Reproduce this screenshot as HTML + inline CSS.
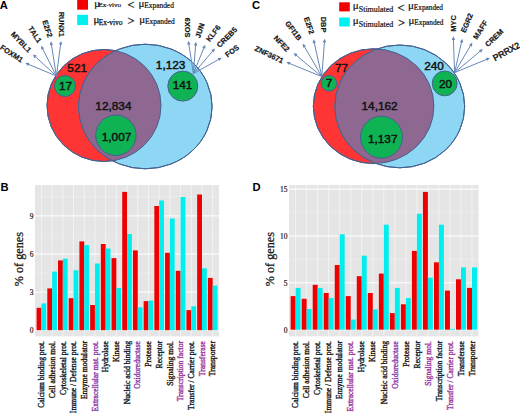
<!DOCTYPE html>
<html><head><meta charset="utf-8"><style>
html,body{margin:0;padding:0;background:#fff;}
body{width:520px;height:415px;overflow:hidden;}
svg{display:block;}
</style></head><body>
<svg width="520" height="415" viewBox="0 0 520 415">
<rect width="520" height="415" fill="#fff"/>
<defs><clipPath id="clip104"><ellipse cx="104" cy="105.5" rx="57" ry="56"/></clipPath></defs>
<ellipse cx="104" cy="105.5" rx="57" ry="56" fill="#ff3434" stroke="#44618f" stroke-width="1"/>
<ellipse cx="145.3" cy="106.5" rx="66.8" ry="62.3" fill="#8dd6f4" stroke="#44618f" stroke-width="1"/>
<ellipse cx="145.3" cy="106.5" rx="66.8" ry="62.3" fill="#8e6890" clip-path="url(#clip104)"/>
<ellipse cx="104" cy="105.5" rx="57" ry="56" fill="none" stroke="#44618f" stroke-width="1"/>
<ellipse cx="145.3" cy="106.5" rx="66.8" ry="62.3" fill="none" stroke="#44618f" stroke-width="1"/>
<circle cx="65" cy="86" r="10.5" fill="#10b354" stroke="#44618f" stroke-width="1"/>
<circle cx="182.8" cy="86.1" r="15" fill="#10b354" stroke="#44618f" stroke-width="1"/>
<circle cx="115.9" cy="135.3" r="20.2" fill="#10b354" stroke="#44618f" stroke-width="1"/>
<text x="77.20" y="71.50" font-size="11.82" font-family='"Liberation Sans", sans-serif' text-anchor="middle" font-weight="normal" fill="#111" stroke="#111" stroke-width="0.45">521</text>
<text x="65.60" y="89.60" font-size="11.82" font-family='"Liberation Sans", sans-serif' text-anchor="middle" font-weight="normal" fill="#111" stroke="#111" stroke-width="0.45">17</text>
<text x="113.40" y="109.50" font-size="11.82" font-family='"Liberation Sans", sans-serif' text-anchor="middle" font-weight="normal" fill="#111" stroke="#111" stroke-width="0.45">12,834</text>
<text x="116.50" y="140.60" font-size="11.82" font-family='"Liberation Sans", sans-serif' text-anchor="middle" font-weight="normal" fill="#111" stroke="#111" stroke-width="0.45">1,007</text>
<text x="170.60" y="69.30" font-size="11.82" font-family='"Liberation Sans", sans-serif' text-anchor="middle" font-weight="normal" fill="#111" stroke="#111" stroke-width="0.45">1,123</text>
<text x="182.50" y="89.30" font-size="11.82" font-family='"Liberation Sans", sans-serif' text-anchor="middle" font-weight="normal" fill="#111" stroke="#111" stroke-width="0.45">141</text>
<line x1="56.40" y1="76.00" x2="27.15" y2="63.77" stroke="#6787b9" stroke-width="1"/>
<polygon points="25.30,63.00 29.39,62.81 28.04,66.04" fill="#6787b9"/>
<line x1="56.40" y1="76.00" x2="34.37" y2="55.75" stroke="#6787b9" stroke-width="1"/>
<polygon points="32.90,54.40 36.81,55.62 34.44,58.19" fill="#6787b9"/>
<line x1="56.40" y1="76.00" x2="42.00" y2="47.49" stroke="#6787b9" stroke-width="1"/>
<polygon points="41.10,45.70 44.33,48.21 41.21,49.79" fill="#6787b9"/>
<line x1="56.40" y1="76.00" x2="51.21" y2="43.28" stroke="#6787b9" stroke-width="1"/>
<polygon points="50.90,41.30 53.21,44.68 49.75,45.23" fill="#6787b9"/>
<line x1="56.40" y1="76.00" x2="60.83" y2="42.88" stroke="#6787b9" stroke-width="1"/>
<polygon points="61.10,40.90 62.34,44.80 58.87,44.34" fill="#6787b9"/>
<line x1="193.40" y1="73.60" x2="188.61" y2="42.78" stroke="#6787b9" stroke-width="1"/>
<polygon points="188.30,40.80 190.60,44.19 187.14,44.72" fill="#6787b9"/>
<line x1="193.40" y1="73.60" x2="195.74" y2="43.79" stroke="#6787b9" stroke-width="1"/>
<polygon points="195.90,41.80 197.35,45.63 193.87,45.35" fill="#6787b9"/>
<line x1="193.40" y1="73.60" x2="204.44" y2="46.55" stroke="#6787b9" stroke-width="1"/>
<polygon points="205.20,44.70 205.42,48.79 202.18,47.46" fill="#6787b9"/>
<line x1="193.40" y1="73.60" x2="213.70" y2="49.92" stroke="#6787b9" stroke-width="1"/>
<polygon points="215.00,48.40 213.92,52.35 211.26,50.07" fill="#6787b9"/>
<line x1="193.40" y1="73.60" x2="220.05" y2="58.68" stroke="#6787b9" stroke-width="1"/>
<polygon points="221.80,57.70 219.43,61.03 217.72,57.98" fill="#6787b9"/>
<defs><clipPath id="clip373"><ellipse cx="373.6" cy="106.2" rx="60.3" ry="57.4"/></clipPath></defs>
<ellipse cx="373.6" cy="106.2" rx="60.3" ry="57.4" fill="#ff3434" stroke="#44618f" stroke-width="1"/>
<ellipse cx="399.8" cy="106.4" rx="64.9" ry="61.4" fill="#8dd6f4" stroke="#44618f" stroke-width="1"/>
<ellipse cx="399.8" cy="106.4" rx="64.9" ry="61.4" fill="#8e6890" clip-path="url(#clip373)"/>
<ellipse cx="373.6" cy="106.2" rx="60.3" ry="57.4" fill="none" stroke="#44618f" stroke-width="1"/>
<ellipse cx="399.8" cy="106.4" rx="64.9" ry="61.4" fill="none" stroke="#44618f" stroke-width="1"/>
<circle cx="329" cy="83.3" r="7.8" fill="#10b354" stroke="#44618f" stroke-width="1"/>
<circle cx="444.7" cy="83.4" r="12.4" fill="#10b354" stroke="#44618f" stroke-width="1"/>
<circle cx="381.5" cy="137.2" r="21" fill="#10b354" stroke="#44618f" stroke-width="1"/>
<text x="341.50" y="71.80" font-size="11.82" font-family='"Liberation Sans", sans-serif' text-anchor="middle" font-weight="normal" fill="#111" stroke="#111" stroke-width="0.45">77</text>
<text x="329.00" y="87.20" font-size="11.82" font-family='"Liberation Sans", sans-serif' text-anchor="middle" font-weight="normal" fill="#111" stroke="#111" stroke-width="0.45">7</text>
<text x="434.10" y="70.30" font-size="11.82" font-family='"Liberation Sans", sans-serif' text-anchor="middle" font-weight="normal" fill="#111" stroke="#111" stroke-width="0.45">240</text>
<text x="445.60" y="87.60" font-size="11.82" font-family='"Liberation Sans", sans-serif' text-anchor="middle" font-weight="normal" fill="#111" stroke="#111" stroke-width="0.45">20</text>
<text x="379.60" y="110.30" font-size="11.82" font-family='"Liberation Sans", sans-serif' text-anchor="middle" font-weight="normal" fill="#111" stroke="#111" stroke-width="0.45">14,162</text>
<text x="382.70" y="142.80" font-size="11.82" font-family='"Liberation Sans", sans-serif' text-anchor="middle" font-weight="normal" fill="#111" stroke="#111" stroke-width="0.45">1,137</text>
<line x1="321.80" y1="76.60" x2="288.15" y2="62.86" stroke="#6787b9" stroke-width="1"/>
<polygon points="286.30,62.10 290.39,61.88 289.06,65.12" fill="#6787b9"/>
<line x1="321.80" y1="76.60" x2="295.14" y2="54.38" stroke="#6787b9" stroke-width="1"/>
<polygon points="293.60,53.10 297.56,54.12 295.32,56.81" fill="#6787b9"/>
<line x1="321.80" y1="76.60" x2="303.70" y2="45.33" stroke="#6787b9" stroke-width="1"/>
<polygon points="302.70,43.60 306.07,45.93 303.04,47.68" fill="#6787b9"/>
<line x1="321.80" y1="76.60" x2="313.93" y2="41.25" stroke="#6787b9" stroke-width="1"/>
<polygon points="313.50,39.30 316.01,42.53 312.60,43.29" fill="#6787b9"/>
<line x1="321.80" y1="76.60" x2="324.55" y2="40.69" stroke="#6787b9" stroke-width="1"/>
<polygon points="324.70,38.70 326.16,42.52 322.67,42.26" fill="#6787b9"/>
<line x1="454.60" y1="72.60" x2="453.37" y2="38.30" stroke="#6787b9" stroke-width="1"/>
<polygon points="453.30,36.30 455.18,39.93 451.68,40.06" fill="#6787b9"/>
<line x1="454.60" y1="72.60" x2="461.86" y2="40.65" stroke="#6787b9" stroke-width="1"/>
<polygon points="462.30,38.70 463.19,42.70 459.77,41.92" fill="#6787b9"/>
<line x1="454.60" y1="72.60" x2="471.28" y2="44.32" stroke="#6787b9" stroke-width="1"/>
<polygon points="472.30,42.60 471.93,46.68 468.91,44.90" fill="#6787b9"/>
<line x1="454.60" y1="72.60" x2="481.27" y2="50.28" stroke="#6787b9" stroke-width="1"/>
<polygon points="482.80,49.00 481.09,52.72 478.84,50.03" fill="#6787b9"/>
<line x1="454.60" y1="72.60" x2="488.05" y2="58.76" stroke="#6787b9" stroke-width="1"/>
<polygon points="489.90,58.00 487.15,61.03 485.81,57.80" fill="#6787b9"/>
<rect x="35.0" y="185.0" width="184.10" height="151.39999999999998" fill="#e5e5e5"/>
<line x1="35.0" x2="219.1" y1="311.15" y2="311.15" stroke="#eeeeee" stroke-width="0.6"/>
<line x1="35.0" x2="219.1" y1="273.05" y2="273.05" stroke="#eeeeee" stroke-width="0.6"/>
<line x1="35.0" x2="219.1" y1="234.95" y2="234.95" stroke="#eeeeee" stroke-width="0.6"/>
<line x1="35.0" x2="219.1" y1="196.85" y2="196.85" stroke="#eeeeee" stroke-width="0.6"/>
<line x1="35.0" x2="219.1" y1="330.20" y2="330.20" stroke="#ffffff" stroke-width="1"/>
<line x1="35.0" x2="219.1" y1="292.10" y2="292.10" stroke="#ffffff" stroke-width="1"/>
<line x1="35.0" x2="219.1" y1="254.00" y2="254.00" stroke="#ffffff" stroke-width="1"/>
<line x1="35.0" x2="219.1" y1="215.90" y2="215.90" stroke="#ffffff" stroke-width="1"/>
<line x1="41.42" x2="41.42" y1="185.0" y2="336.4" stroke="#ffffff" stroke-width="0.7" stroke-opacity="0.75"/>
<line x1="52.13" x2="52.13" y1="185.0" y2="336.4" stroke="#ffffff" stroke-width="0.7" stroke-opacity="0.75"/>
<line x1="62.83" x2="62.83" y1="185.0" y2="336.4" stroke="#ffffff" stroke-width="0.7" stroke-opacity="0.75"/>
<line x1="73.53" x2="73.53" y1="185.0" y2="336.4" stroke="#ffffff" stroke-width="0.7" stroke-opacity="0.75"/>
<line x1="84.24" x2="84.24" y1="185.0" y2="336.4" stroke="#ffffff" stroke-width="0.7" stroke-opacity="0.75"/>
<line x1="94.94" x2="94.94" y1="185.0" y2="336.4" stroke="#ffffff" stroke-width="0.7" stroke-opacity="0.75"/>
<line x1="105.64" x2="105.64" y1="185.0" y2="336.4" stroke="#ffffff" stroke-width="0.7" stroke-opacity="0.75"/>
<line x1="116.35" x2="116.35" y1="185.0" y2="336.4" stroke="#ffffff" stroke-width="0.7" stroke-opacity="0.75"/>
<line x1="127.05" x2="127.05" y1="185.0" y2="336.4" stroke="#ffffff" stroke-width="0.7" stroke-opacity="0.75"/>
<line x1="137.75" x2="137.75" y1="185.0" y2="336.4" stroke="#ffffff" stroke-width="0.7" stroke-opacity="0.75"/>
<line x1="148.46" x2="148.46" y1="185.0" y2="336.4" stroke="#ffffff" stroke-width="0.7" stroke-opacity="0.75"/>
<line x1="159.16" x2="159.16" y1="185.0" y2="336.4" stroke="#ffffff" stroke-width="0.7" stroke-opacity="0.75"/>
<line x1="169.86" x2="169.86" y1="185.0" y2="336.4" stroke="#ffffff" stroke-width="0.7" stroke-opacity="0.75"/>
<line x1="180.57" x2="180.57" y1="185.0" y2="336.4" stroke="#ffffff" stroke-width="0.7" stroke-opacity="0.75"/>
<line x1="191.27" x2="191.27" y1="185.0" y2="336.4" stroke="#ffffff" stroke-width="0.7" stroke-opacity="0.75"/>
<line x1="201.97" x2="201.97" y1="185.0" y2="336.4" stroke="#ffffff" stroke-width="0.7" stroke-opacity="0.75"/>
<line x1="212.68" x2="212.68" y1="185.0" y2="336.4" stroke="#ffffff" stroke-width="0.7" stroke-opacity="0.75"/>
<rect x="36.61" y="307.80" width="4.82" height="22.40" fill="#ee0000"/>
<rect x="41.42" y="303.40" width="4.82" height="26.80" fill="#00eeee"/>
<rect x="47.31" y="288.40" width="4.82" height="41.80" fill="#ee0000"/>
<rect x="52.13" y="271.60" width="4.82" height="58.60" fill="#00eeee"/>
<rect x="58.01" y="260.40" width="4.82" height="69.80" fill="#ee0000"/>
<rect x="62.83" y="258.70" width="4.82" height="71.50" fill="#00eeee"/>
<rect x="68.72" y="298.20" width="4.82" height="32.00" fill="#ee0000"/>
<rect x="73.53" y="270.30" width="4.82" height="59.90" fill="#00eeee"/>
<rect x="79.42" y="241.40" width="4.82" height="88.80" fill="#ee0000"/>
<rect x="84.24" y="245.10" width="4.82" height="85.10" fill="#00eeee"/>
<rect x="90.12" y="305.00" width="4.82" height="25.20" fill="#ee0000"/>
<rect x="94.94" y="263.50" width="4.82" height="66.70" fill="#00eeee"/>
<rect x="100.83" y="244.00" width="4.82" height="86.20" fill="#ee0000"/>
<rect x="105.64" y="248.50" width="4.82" height="81.70" fill="#00eeee"/>
<rect x="111.53" y="258.10" width="4.82" height="72.10" fill="#ee0000"/>
<rect x="116.35" y="288.00" width="4.82" height="42.20" fill="#00eeee"/>
<rect x="122.23" y="191.90" width="4.82" height="138.30" fill="#ee0000"/>
<rect x="127.05" y="234.00" width="4.82" height="96.20" fill="#00eeee"/>
<rect x="132.94" y="250.40" width="4.82" height="79.80" fill="#ee0000"/>
<rect x="137.75" y="307.30" width="4.82" height="22.90" fill="#00eeee"/>
<rect x="143.64" y="301.10" width="4.82" height="29.10" fill="#ee0000"/>
<rect x="148.46" y="300.60" width="4.82" height="29.60" fill="#00eeee"/>
<rect x="154.34" y="206.00" width="4.82" height="124.20" fill="#ee0000"/>
<rect x="159.16" y="200.50" width="4.82" height="129.70" fill="#00eeee"/>
<rect x="165.05" y="252.80" width="4.82" height="77.40" fill="#ee0000"/>
<rect x="169.86" y="218.50" width="4.82" height="111.70" fill="#00eeee"/>
<rect x="175.75" y="270.80" width="4.82" height="59.40" fill="#ee0000"/>
<rect x="180.57" y="197.00" width="4.82" height="133.20" fill="#00eeee"/>
<rect x="186.45" y="310.10" width="4.82" height="20.10" fill="#ee0000"/>
<rect x="191.27" y="306.30" width="4.82" height="23.90" fill="#00eeee"/>
<rect x="197.16" y="194.50" width="4.82" height="135.70" fill="#ee0000"/>
<rect x="201.97" y="268.30" width="4.82" height="61.90" fill="#00eeee"/>
<rect x="207.86" y="277.90" width="4.82" height="52.30" fill="#ee0000"/>
<rect x="212.68" y="285.60" width="4.82" height="44.60" fill="#00eeee"/>
<text x="33.60" y="333.20" font-size="7.5" font-family='"Liberation Serif", serif' text-anchor="end" font-weight="normal" fill="#1a1a1a" stroke="#1a1a1a" stroke-width="0.2">0</text>
<text x="33.60" y="295.10" font-size="7.5" font-family='"Liberation Serif", serif' text-anchor="end" font-weight="normal" fill="#1a1a1a" stroke="#1a1a1a" stroke-width="0.2">3</text>
<text x="33.60" y="257.00" font-size="7.5" font-family='"Liberation Serif", serif' text-anchor="end" font-weight="normal" fill="#1a1a1a" stroke="#1a1a1a" stroke-width="0.2">6</text>
<text x="33.60" y="218.90" font-size="7.5" font-family='"Liberation Serif", serif' text-anchor="end" font-weight="normal" fill="#1a1a1a" stroke="#1a1a1a" stroke-width="0.2">9</text>
<text x="44.12" y="341.00" font-size="7.6" font-family='"Liberation Serif", serif' text-anchor="end" font-weight="normal" fill="#111" transform="rotate(-90.00 44.12 341.00)" stroke="#111" stroke-width="0.32">Calcium binding prot.</text>
<text x="54.83" y="341.00" font-size="7.6" font-family='"Liberation Serif", serif' text-anchor="end" font-weight="normal" fill="#111" transform="rotate(-90.00 54.83 341.00)" stroke="#111" stroke-width="0.32">Cell adhesion mol.</text>
<text x="65.53" y="341.00" font-size="7.6" font-family='"Liberation Serif", serif' text-anchor="end" font-weight="normal" fill="#111" transform="rotate(-90.00 65.53 341.00)" stroke="#111" stroke-width="0.32">Cytoskeletal prot.</text>
<text x="76.23" y="341.00" font-size="7.6" font-family='"Liberation Serif", serif' text-anchor="end" font-weight="normal" fill="#111" transform="rotate(-90.00 76.23 341.00)" stroke="#111" stroke-width="0.32">Immune / Defense prot.</text>
<text x="86.94" y="341.00" font-size="7.6" font-family='"Liberation Serif", serif' text-anchor="end" font-weight="normal" fill="#111" transform="rotate(-90.00 86.94 341.00)" stroke="#111" stroke-width="0.32">Enzyme modulator</text>
<text x="97.64" y="341.00" font-size="7.6" font-family='"Liberation Serif", serif' text-anchor="end" font-weight="normal" fill="#9232a2" transform="rotate(-90.00 97.64 341.00)" stroke="#9232a2" stroke-width="0.32">Extracellular mat. prot.</text>
<text x="108.34" y="341.00" font-size="7.6" font-family='"Liberation Serif", serif' text-anchor="end" font-weight="normal" fill="#111" transform="rotate(-90.00 108.34 341.00)" stroke="#111" stroke-width="0.32">Hydrolase</text>
<text x="119.05" y="341.00" font-size="7.6" font-family='"Liberation Serif", serif' text-anchor="end" font-weight="normal" fill="#111" transform="rotate(-90.00 119.05 341.00)" stroke="#111" stroke-width="0.32">Kinase</text>
<text x="129.75" y="341.00" font-size="7.6" font-family='"Liberation Serif", serif' text-anchor="end" font-weight="normal" fill="#111" transform="rotate(-90.00 129.75 341.00)" stroke="#111" stroke-width="0.32">Nucleic acid binding</text>
<text x="140.45" y="341.00" font-size="7.6" font-family='"Liberation Serif", serif' text-anchor="end" font-weight="normal" fill="#9232a2" transform="rotate(-90.00 140.45 341.00)" stroke="#9232a2" stroke-width="0.32">Oxidoreductase</text>
<text x="151.16" y="341.00" font-size="7.6" font-family='"Liberation Serif", serif' text-anchor="end" font-weight="normal" fill="#111" transform="rotate(-90.00 151.16 341.00)" stroke="#111" stroke-width="0.32">Protease</text>
<text x="161.86" y="341.00" font-size="7.6" font-family='"Liberation Serif", serif' text-anchor="end" font-weight="normal" fill="#111" transform="rotate(-90.00 161.86 341.00)" stroke="#111" stroke-width="0.32">Receptor</text>
<text x="172.56" y="341.00" font-size="7.6" font-family='"Liberation Serif", serif' text-anchor="end" font-weight="normal" fill="#111" transform="rotate(-90.00 172.56 341.00)" stroke="#111" stroke-width="0.32">Signaling mol.</text>
<text x="183.27" y="341.00" font-size="7.6" font-family='"Liberation Serif", serif' text-anchor="end" font-weight="normal" fill="#9232a2" transform="rotate(-90.00 183.27 341.00)" stroke="#9232a2" stroke-width="0.32">Transcription factor</text>
<text x="193.97" y="341.00" font-size="7.6" font-family='"Liberation Serif", serif' text-anchor="end" font-weight="normal" fill="#111" transform="rotate(-90.00 193.97 341.00)" stroke="#111" stroke-width="0.32">Transfer / Carrier prot.</text>
<text x="204.67" y="341.00" font-size="7.6" font-family='"Liberation Serif", serif' text-anchor="end" font-weight="normal" fill="#9232a2" transform="rotate(-90.00 204.67 341.00)" stroke="#9232a2" stroke-width="0.32">Transferase</text>
<text x="215.38" y="341.00" font-size="7.6" font-family='"Liberation Serif", serif' text-anchor="end" font-weight="normal" fill="#111" transform="rotate(-90.00 215.38 341.00)" stroke="#111" stroke-width="0.32">Transporter</text>
<rect x="289.0" y="185.0" width="189.60" height="151.39999999999998" fill="#e5e5e5"/>
<line x1="289.0" x2="478.6" y1="306.27" y2="306.27" stroke="#eeeeee" stroke-width="0.6"/>
<line x1="289.0" x2="478.6" y1="259.43" y2="259.43" stroke="#eeeeee" stroke-width="0.6"/>
<line x1="289.0" x2="478.6" y1="212.57" y2="212.57" stroke="#eeeeee" stroke-width="0.6"/>
<line x1="289.0" x2="478.6" y1="329.70" y2="329.70" stroke="#ffffff" stroke-width="1"/>
<line x1="289.0" x2="478.6" y1="282.85" y2="282.85" stroke="#ffffff" stroke-width="1"/>
<line x1="289.0" x2="478.6" y1="236.00" y2="236.00" stroke="#ffffff" stroke-width="1"/>
<line x1="289.0" x2="478.6" y1="189.15" y2="189.15" stroke="#ffffff" stroke-width="1"/>
<line x1="295.61" x2="295.61" y1="185.0" y2="336.4" stroke="#ffffff" stroke-width="0.7" stroke-opacity="0.75"/>
<line x1="306.64" x2="306.64" y1="185.0" y2="336.4" stroke="#ffffff" stroke-width="0.7" stroke-opacity="0.75"/>
<line x1="317.66" x2="317.66" y1="185.0" y2="336.4" stroke="#ffffff" stroke-width="0.7" stroke-opacity="0.75"/>
<line x1="328.68" x2="328.68" y1="185.0" y2="336.4" stroke="#ffffff" stroke-width="0.7" stroke-opacity="0.75"/>
<line x1="339.71" x2="339.71" y1="185.0" y2="336.4" stroke="#ffffff" stroke-width="0.7" stroke-opacity="0.75"/>
<line x1="350.73" x2="350.73" y1="185.0" y2="336.4" stroke="#ffffff" stroke-width="0.7" stroke-opacity="0.75"/>
<line x1="361.75" x2="361.75" y1="185.0" y2="336.4" stroke="#ffffff" stroke-width="0.7" stroke-opacity="0.75"/>
<line x1="372.78" x2="372.78" y1="185.0" y2="336.4" stroke="#ffffff" stroke-width="0.7" stroke-opacity="0.75"/>
<line x1="383.80" x2="383.80" y1="185.0" y2="336.4" stroke="#ffffff" stroke-width="0.7" stroke-opacity="0.75"/>
<line x1="394.82" x2="394.82" y1="185.0" y2="336.4" stroke="#ffffff" stroke-width="0.7" stroke-opacity="0.75"/>
<line x1="405.85" x2="405.85" y1="185.0" y2="336.4" stroke="#ffffff" stroke-width="0.7" stroke-opacity="0.75"/>
<line x1="416.87" x2="416.87" y1="185.0" y2="336.4" stroke="#ffffff" stroke-width="0.7" stroke-opacity="0.75"/>
<line x1="427.89" x2="427.89" y1="185.0" y2="336.4" stroke="#ffffff" stroke-width="0.7" stroke-opacity="0.75"/>
<line x1="438.92" x2="438.92" y1="185.0" y2="336.4" stroke="#ffffff" stroke-width="0.7" stroke-opacity="0.75"/>
<line x1="449.94" x2="449.94" y1="185.0" y2="336.4" stroke="#ffffff" stroke-width="0.7" stroke-opacity="0.75"/>
<line x1="460.96" x2="460.96" y1="185.0" y2="336.4" stroke="#ffffff" stroke-width="0.7" stroke-opacity="0.75"/>
<line x1="471.99" x2="471.99" y1="185.0" y2="336.4" stroke="#ffffff" stroke-width="0.7" stroke-opacity="0.75"/>
<rect x="290.65" y="296.10" width="4.96" height="33.60" fill="#ee0000"/>
<rect x="295.61" y="287.90" width="4.96" height="41.80" fill="#00eeee"/>
<rect x="301.68" y="298.80" width="4.96" height="30.90" fill="#ee0000"/>
<rect x="306.64" y="309.00" width="4.96" height="20.70" fill="#00eeee"/>
<rect x="312.70" y="284.80" width="4.96" height="44.90" fill="#ee0000"/>
<rect x="317.66" y="287.90" width="4.96" height="41.80" fill="#00eeee"/>
<rect x="323.72" y="293.00" width="4.96" height="36.70" fill="#ee0000"/>
<rect x="328.68" y="298.10" width="4.96" height="31.60" fill="#00eeee"/>
<rect x="334.75" y="265.00" width="4.96" height="64.70" fill="#ee0000"/>
<rect x="339.71" y="234.30" width="4.96" height="95.40" fill="#00eeee"/>
<rect x="345.77" y="296.10" width="4.96" height="33.60" fill="#ee0000"/>
<rect x="350.73" y="319.60" width="4.96" height="10.10" fill="#00eeee"/>
<rect x="356.79" y="276.20" width="4.96" height="53.50" fill="#ee0000"/>
<rect x="361.75" y="255.70" width="4.96" height="74.00" fill="#00eeee"/>
<rect x="367.82" y="293.00" width="4.96" height="36.70" fill="#ee0000"/>
<rect x="372.78" y="309.40" width="4.96" height="20.30" fill="#00eeee"/>
<rect x="378.84" y="273.60" width="4.96" height="56.10" fill="#ee0000"/>
<rect x="383.80" y="224.70" width="4.96" height="105.00" fill="#00eeee"/>
<rect x="389.86" y="313.10" width="4.96" height="16.60" fill="#ee0000"/>
<rect x="394.82" y="287.90" width="4.96" height="41.80" fill="#00eeee"/>
<rect x="400.89" y="304.30" width="4.96" height="25.40" fill="#ee0000"/>
<rect x="405.85" y="298.10" width="4.96" height="31.60" fill="#00eeee"/>
<rect x="411.91" y="250.90" width="4.96" height="78.80" fill="#ee0000"/>
<rect x="416.87" y="213.70" width="4.96" height="116.00" fill="#00eeee"/>
<rect x="422.93" y="191.90" width="4.96" height="137.80" fill="#ee0000"/>
<rect x="427.89" y="277.70" width="4.96" height="52.00" fill="#00eeee"/>
<rect x="433.96" y="262.30" width="4.96" height="67.40" fill="#ee0000"/>
<rect x="438.92" y="224.70" width="4.96" height="105.00" fill="#00eeee"/>
<rect x="444.98" y="290.60" width="4.96" height="39.10" fill="#ee0000"/>
<rect x="449.94" y="328.90" width="4.96" height="0.80" fill="#00eeee"/>
<rect x="456.00" y="279.30" width="4.96" height="50.40" fill="#ee0000"/>
<rect x="460.96" y="267.40" width="4.96" height="62.30" fill="#00eeee"/>
<rect x="467.03" y="287.90" width="4.96" height="41.80" fill="#ee0000"/>
<rect x="471.99" y="267.40" width="4.96" height="62.30" fill="#00eeee"/>
<text x="287.60" y="332.70" font-size="7.5" font-family='"Liberation Serif", serif' text-anchor="end" font-weight="normal" fill="#1a1a1a" stroke="#1a1a1a" stroke-width="0.2">0</text>
<text x="287.60" y="285.85" font-size="7.5" font-family='"Liberation Serif", serif' text-anchor="end" font-weight="normal" fill="#1a1a1a" stroke="#1a1a1a" stroke-width="0.2">5</text>
<text x="287.60" y="239.00" font-size="7.5" font-family='"Liberation Serif", serif' text-anchor="end" font-weight="normal" fill="#1a1a1a" stroke="#1a1a1a" stroke-width="0.2">10</text>
<text x="287.60" y="192.15" font-size="7.5" font-family='"Liberation Serif", serif' text-anchor="end" font-weight="normal" fill="#1a1a1a" stroke="#1a1a1a" stroke-width="0.2">15</text>
<text x="298.31" y="341.00" font-size="7.6" font-family='"Liberation Serif", serif' text-anchor="end" font-weight="normal" fill="#111" transform="rotate(-90.00 298.31 341.00)" stroke="#111" stroke-width="0.32">Calcium binding prot.</text>
<text x="309.34" y="341.00" font-size="7.6" font-family='"Liberation Serif", serif' text-anchor="end" font-weight="normal" fill="#111" transform="rotate(-90.00 309.34 341.00)" stroke="#111" stroke-width="0.32">Cell adhesion mol.</text>
<text x="320.36" y="341.00" font-size="7.6" font-family='"Liberation Serif", serif' text-anchor="end" font-weight="normal" fill="#111" transform="rotate(-90.00 320.36 341.00)" stroke="#111" stroke-width="0.32">Cytoskeletal prot.</text>
<text x="331.38" y="341.00" font-size="7.6" font-family='"Liberation Serif", serif' text-anchor="end" font-weight="normal" fill="#111" transform="rotate(-90.00 331.38 341.00)" stroke="#111" stroke-width="0.32">Immune / Defense prot.</text>
<text x="342.41" y="341.00" font-size="7.6" font-family='"Liberation Serif", serif' text-anchor="end" font-weight="normal" fill="#111" transform="rotate(-90.00 342.41 341.00)" stroke="#111" stroke-width="0.32">Enzyme modulator</text>
<text x="353.43" y="341.00" font-size="7.6" font-family='"Liberation Serif", serif' text-anchor="end" font-weight="normal" fill="#9232a2" transform="rotate(-90.00 353.43 341.00)" stroke="#9232a2" stroke-width="0.32">Extracellular mat. prot.</text>
<text x="364.45" y="341.00" font-size="7.6" font-family='"Liberation Serif", serif' text-anchor="end" font-weight="normal" fill="#111" transform="rotate(-90.00 364.45 341.00)" stroke="#111" stroke-width="0.32">Hydrolase</text>
<text x="375.48" y="341.00" font-size="7.6" font-family='"Liberation Serif", serif' text-anchor="end" font-weight="normal" fill="#111" transform="rotate(-90.00 375.48 341.00)" stroke="#111" stroke-width="0.32">Kinase</text>
<text x="386.50" y="341.00" font-size="7.6" font-family='"Liberation Serif", serif' text-anchor="end" font-weight="normal" fill="#111" transform="rotate(-90.00 386.50 341.00)" stroke="#111" stroke-width="0.32">Nucleic acid binding</text>
<text x="397.52" y="341.00" font-size="7.6" font-family='"Liberation Serif", serif' text-anchor="end" font-weight="normal" fill="#9232a2" transform="rotate(-90.00 397.52 341.00)" stroke="#9232a2" stroke-width="0.32">Oxidoreductase</text>
<text x="408.55" y="341.00" font-size="7.6" font-family='"Liberation Serif", serif' text-anchor="end" font-weight="normal" fill="#111" transform="rotate(-90.00 408.55 341.00)" stroke="#111" stroke-width="0.32">Protease</text>
<text x="419.57" y="341.00" font-size="7.6" font-family='"Liberation Serif", serif' text-anchor="end" font-weight="normal" fill="#111" transform="rotate(-90.00 419.57 341.00)" stroke="#111" stroke-width="0.32">Receptor</text>
<text x="430.59" y="341.00" font-size="7.6" font-family='"Liberation Serif", serif' text-anchor="end" font-weight="normal" fill="#9232a2" transform="rotate(-90.00 430.59 341.00)" stroke="#9232a2" stroke-width="0.32">Signaling mol.</text>
<text x="441.62" y="341.00" font-size="7.6" font-family='"Liberation Serif", serif' text-anchor="end" font-weight="normal" fill="#111" transform="rotate(-90.00 441.62 341.00)" stroke="#111" stroke-width="0.32">Transcription factor</text>
<text x="452.64" y="341.00" font-size="7.6" font-family='"Liberation Serif", serif' text-anchor="end" font-weight="normal" fill="#9232a2" transform="rotate(-90.00 452.64 341.00)" stroke="#9232a2" stroke-width="0.32">Transfer / Carrier prot.</text>
<text x="463.66" y="341.00" font-size="7.6" font-family='"Liberation Serif", serif' text-anchor="end" font-weight="normal" fill="#111" transform="rotate(-90.00 463.66 341.00)" stroke="#111" stroke-width="0.32">Transferase</text>
<text x="474.69" y="341.00" font-size="7.6" font-family='"Liberation Serif", serif' text-anchor="end" font-weight="normal" fill="#111" transform="rotate(-90.00 474.69 341.00)" stroke="#111" stroke-width="0.32">Transporter</text>
<text x="22.60" y="259.10" font-size="12.2" font-family='"Liberation Serif", serif' text-anchor="middle" font-weight="normal" fill="#111" transform="rotate(-90.00 22.60 259.10)" stroke="#111" stroke-width="0.25">% of genes</text>
<text x="274.20" y="259.10" font-size="12.2" font-family='"Liberation Serif", serif' text-anchor="middle" font-weight="normal" fill="#111" transform="rotate(-90.00 274.20 259.10)" stroke="#111" stroke-width="0.25">% of genes</text>
<text x="-0.30" y="9.30" font-size="11.2" font-family='"Liberation Sans", sans-serif' text-anchor="start" font-weight="bold" fill="#000">A</text>
<text x="0.60" y="191.30" font-size="11.2" font-family='"Liberation Sans", sans-serif' text-anchor="start" font-weight="bold" fill="#000">B</text>
<text x="251.90" y="9.10" font-size="11.2" font-family='"Liberation Sans", sans-serif' text-anchor="start" font-weight="bold" fill="#000">C</text>
<text x="252.40" y="190.90" font-size="11.2" font-family='"Liberation Sans", sans-serif' text-anchor="start" font-weight="bold" fill="#000">D</text>
<rect x="77.2" y="-1" width="10.8" height="10.7" fill="#f00000"/>
<rect x="77.2" y="14.8" width="10.8" height="10.3" fill="#00f0f0"/>
<text x="94.20" y="6.60" font-size="11" font-family='"Liberation Serif", serif' text-anchor="start" font-weight="normal" fill="#111" stroke="#111" stroke-width="0.2">μ<tspan font-size="7.0" dy="0" dx="-1.6">Ex-vivo</tspan></text>
<text x="93.60" y="23.20" font-size="11" font-family='"Liberation Serif", serif' text-anchor="start" font-weight="normal" fill="#111" stroke="#111" stroke-width="0.25">μ<tspan font-size="7.4" dy="1.6" dx="-0.8">Ex-vivo</tspan></text>
<text x="127.40" y="9.40" font-size="12.5" font-family='"Liberation Serif", serif' text-anchor="start" font-weight="normal" fill="#111" stroke="#111" stroke-width="0.3">&lt;</text>
<text x="127.40" y="25.00" font-size="12.5" font-family='"Liberation Serif", serif' text-anchor="start" font-weight="normal" fill="#111" stroke="#111" stroke-width="0.3">&gt;</text>
<text x="138.40" y="7.00" font-size="11" font-family='"Liberation Serif", serif' text-anchor="start" font-weight="normal" fill="#111" stroke="#111" stroke-width="0.2">μ<tspan font-size="7.4" dy="1.1">Expanded</tspan></text>
<text x="139.20" y="23.20" font-size="11" font-family='"Liberation Serif", serif' text-anchor="start" font-weight="normal" fill="#111" stroke="#111" stroke-width="0.2">μ<tspan font-size="7.4" dy="1.2">Expanded</tspan></text>
<rect x="339.2" y="2.3" width="10.6" height="9.1" fill="#f00000"/>
<rect x="339.2" y="17.5" width="10.6" height="9.0" fill="#00f0f0"/>
<text x="352.80" y="9.00" font-size="11" font-family='"Liberation Serif", serif' text-anchor="start" font-weight="normal" fill="#111" stroke="#111" stroke-width="0.2">μ<tspan font-size="8" dy="2.7">Stimulated</tspan></text>
<text x="352.80" y="24.00" font-size="11" font-family='"Liberation Serif", serif' text-anchor="start" font-weight="normal" fill="#111" stroke="#111" stroke-width="0.2">μ<tspan font-size="8" dy="2.7">Stimulated</tspan></text>
<text x="397.60" y="11.60" font-size="12.5" font-family='"Liberation Serif", serif' text-anchor="start" font-weight="normal" fill="#111" stroke="#111" stroke-width="0.3">&lt;</text>
<text x="398.00" y="26.80" font-size="12.5" font-family='"Liberation Serif", serif' text-anchor="start" font-weight="normal" fill="#111" stroke="#111" stroke-width="0.3">&gt;</text>
<text x="407.90" y="9.00" font-size="11" font-family='"Liberation Serif", serif' text-anchor="start" font-weight="normal" fill="#111" stroke="#111" stroke-width="0.2">μ<tspan font-size="7.3" dy="1.2">Expanded</tspan></text>
<text x="408.40" y="23.80" font-size="11" font-family='"Liberation Serif", serif' text-anchor="start" font-weight="normal" fill="#111" stroke="#111" stroke-width="0.2">μ<tspan font-size="7.3" dy="1.1">Expanded</tspan></text>
<text transform="translate(11.60 53.50) rotate(33.00)" x="0" y="2.68" font-size="7.45" font-family='"Liberation Sans", sans-serif' text-anchor="middle" font-weight="bold" fill="#151515" stroke="#151515" stroke-width="0.2">FOXM1</text>
<text transform="translate(21.20 42.00) rotate(46.00)" x="0" y="2.68" font-size="7.45" font-family='"Liberation Sans", sans-serif' text-anchor="middle" font-weight="bold" fill="#151515" stroke="#151515" stroke-width="0.2">MYBL1</text>
<text transform="translate(35.00 34.40) rotate(57.00)" x="0" y="2.68" font-size="7.45" font-family='"Liberation Sans", sans-serif' text-anchor="middle" font-weight="bold" fill="#151515" stroke="#151515" stroke-width="0.2">TAL1</text>
<text transform="translate(47.50 28.60) rotate(72.00)" x="0" y="2.68" font-size="7.45" font-family='"Liberation Sans", sans-serif' text-anchor="middle" font-weight="bold" fill="#151515" stroke="#151515" stroke-width="0.2">E2F2</text>
<text transform="translate(62.10 24.30) rotate(90.00)" x="0" y="2.68" font-size="7.45" font-family='"Liberation Sans", sans-serif' text-anchor="middle" font-weight="bold" fill="#151515" stroke="#151515" stroke-width="0.2">RUNX1</text>
<text transform="translate(187.50 27.50) rotate(-90.00)" x="0" y="2.68" font-size="7.45" font-family='"Liberation Sans", sans-serif' text-anchor="middle" font-weight="bold" fill="#151515" stroke="#151515" stroke-width="0.2">SOX9</text>
<text transform="translate(199.70 30.50) rotate(-72.00)" x="0" y="2.68" font-size="7.45" font-family='"Liberation Sans", sans-serif' text-anchor="middle" font-weight="bold" fill="#151515" stroke="#151515" stroke-width="0.2">JUN</text>
<text transform="translate(213.20 33.30) rotate(-53.00)" x="0" y="2.68" font-size="7.45" font-family='"Liberation Sans", sans-serif' text-anchor="middle" font-weight="bold" fill="#151515" stroke="#151515" stroke-width="0.2">KLF6</text>
<text transform="translate(226.80 37.20) rotate(-45.00)" x="0" y="2.68" font-size="7.45" font-family='"Liberation Sans", sans-serif' text-anchor="middle" font-weight="bold" fill="#151515" stroke="#151515" stroke-width="0.2">CREB5</text>
<text transform="translate(232.00 51.00) rotate(-37.00)" x="0" y="2.68" font-size="7.45" font-family='"Liberation Sans", sans-serif' text-anchor="middle" font-weight="bold" fill="#151515" stroke="#151515" stroke-width="0.2">FOS</text>
<text transform="translate(269.20 54.40) rotate(25.00)" x="0" y="2.68" font-size="7.45" font-family='"Liberation Sans", sans-serif' text-anchor="middle" font-weight="bold" fill="#151515" stroke="#151515" stroke-width="0.2">ZNF3671</text>
<text transform="translate(281.80 43.50) rotate(46.00)" x="0" y="2.68" font-size="7.45" font-family='"Liberation Sans", sans-serif' text-anchor="middle" font-weight="bold" fill="#151515" stroke="#151515" stroke-width="0.2">NFE2</text>
<text transform="translate(293.50 30.60) rotate(53.00)" x="0" y="2.68" font-size="7.45" font-family='"Liberation Sans", sans-serif' text-anchor="middle" font-weight="bold" fill="#151515" stroke="#151515" stroke-width="0.2">GFI1B</text>
<text transform="translate(309.30 25.50) rotate(71.00)" x="0" y="2.68" font-size="7.45" font-family='"Liberation Sans", sans-serif' text-anchor="middle" font-weight="bold" fill="#151515" stroke="#151515" stroke-width="0.2">E2F2</text>
<text transform="translate(324.00 24.50) rotate(90.00)" x="0" y="2.68" font-size="7.45" font-family='"Liberation Sans", sans-serif' text-anchor="middle" font-weight="bold" fill="#151515" stroke="#151515" stroke-width="0.2">DBP</text>
<text transform="translate(453.60 23.50) rotate(-90.00)" x="0" y="2.68" font-size="7.45" font-family='"Liberation Sans", sans-serif' text-anchor="middle" font-weight="bold" fill="#151515" stroke="#151515" stroke-width="0.2">MYC</text>
<text transform="translate(466.80 23.00) rotate(-67.00)" x="0" y="2.68" font-size="7.45" font-family='"Liberation Sans", sans-serif' text-anchor="middle" font-weight="bold" fill="#151515" stroke="#151515" stroke-width="0.2">EGR2</text>
<text transform="translate(480.30 29.70) rotate(-58.00)" x="0" y="2.68" font-size="7.45" font-family='"Liberation Sans", sans-serif' text-anchor="middle" font-weight="bold" fill="#151515" stroke="#151515" stroke-width="0.2">MAFF</text>
<text transform="translate(494.10 37.80) rotate(-44.00)" x="0" y="2.68" font-size="7.45" font-family='"Liberation Sans", sans-serif' text-anchor="middle" font-weight="bold" fill="#151515" stroke="#151515" stroke-width="0.2">CREM</text>
<text transform="translate(506.30 51.40) rotate(-29.00)" x="0" y="3.17" font-size="8.8" font-family='"Liberation Sans", sans-serif' text-anchor="middle" font-weight="normal" fill="#151515" stroke="#151515" stroke-width="0.45">PRRX2</text>
</svg>
</body></html>
